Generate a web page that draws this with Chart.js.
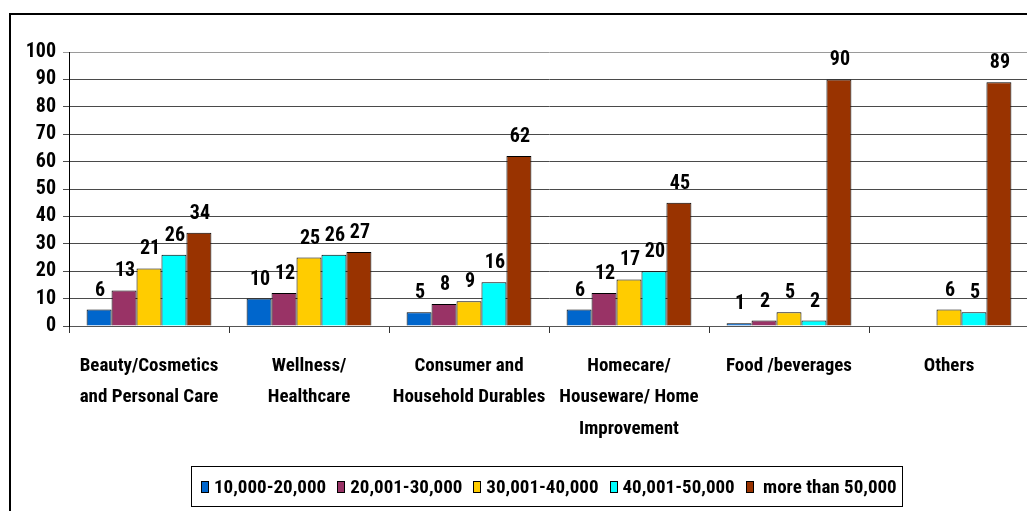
<!DOCTYPE html>
<html><head><meta charset="utf-8">
<script src="https://cdn.jsdelivr.net/npm/chart.js@4.4.0/dist/chart.umd.min.js"></script>
<style>
html,body{margin:0;padding:0;background:#fff;overflow:hidden;width:1027px;height:511px}
#wrap{position:absolute;left:0;top:0;width:1029px;height:511px}
canvas{display:block}
</style></head><body>
<div id="wrap"><canvas id="c" width="1029" height="511"></canvas></div>
<script>
const categories = [
  ["Beauty/Cosmetics","and Personal Care"],
  ["Wellness/","Healthcare"],
  ["Consumer and","Household Durables"],
  ["Homecare/","Houseware/ Home","Improvement"],
  ["Food /beverages"],
  ["Others"]
];
const seriesNames = ["10,000-20,000","20,001-30,000","30,001-40,000","40,001-50,000"," more than 50,000"];
const series1 = [6, 10, 5, 6, 1, null];
const series2 = [13, 12, 8, 12, 2, null];
const series3 = [21, 25, 9, 17, 5, 6];
const series4 = [26, 26, 16, 20, 2, 5];
const series5 = [34, 27, 62, 45, 90, 89];
const seriesColors = ["#0066CC","#993366","#FFCC00","#00FFFF","#993300"];
const yMin = 0, yMax = 100, yStep = 10;

const FONT = "'Roboto Condensed', sans-serif";
const allSeries = [series1, series2, series3, series4, series5];

const frame = {
  id: 'frame',
  beforeDraw(chart) {
    const ctx = chart.ctx;
    ctx.save();
    ctx.fillStyle = '#fff';
    ctx.fillRect(0, 0, chart.width, chart.height);
    ctx.lineWidth = 2;
    ctx.strokeStyle = '#000';
    ctx.strokeRect(10, 14, 1200, 700);
    ctx.restore();
  }
};

const valueLabels = {
  id: 'valueLabels',
  afterDatasetsDraw(chart) {
    const ctx = chart.ctx;
    ctx.save();
    ctx.font = "bold 20px " + FONT;
    ctx.fillStyle = '#000';
    ctx.textAlign = 'center';
    ctx.textBaseline = 'alphabetic';
    chart.data.datasets.forEach((ds, i) => {
      const meta = chart.getDatasetMeta(i);
      meta.data.forEach((bar, j) => {
        const v = ds.data[j];
        if (v === null || v === undefined) return;
        ctx.fillText(String(v), bar.x + 1, bar.y - 14);
      });
    });
    ctx.restore();
  }
};

const legendBox = {
  id: 'legendBox',
  afterDraw(chart) {
    const ctx = chart.ctx;
    ctx.save();
    ctx.font = "bold 19px " + FONT;
    ctx.textBaseline = 'middle';
    ctx.textAlign = 'left';
    const boxW = 8, boxH = 12, gap = 5, spacing = 11;
    const items = chart.data.datasets.map(ds => ({label: ds.label, color: ds.backgroundColor, w: ctx.measureText(ds.label).width}));
    let total = 0;
    items.forEach((it, k) => { total += boxW + gap + it.w + (k < items.length - 1 ? spacing : 0); });
    const cx = 549, cy = 487;
    let x = Math.round(cx - total / 2);
    const x0 = x;
    ctx.lineWidth = 1;
    ctx.strokeStyle = '#000';
    ctx.strokeRect(x0 - 10 + 0.5, 466.5, Math.round(total + 15), 40);
    items.forEach(it => {
      ctx.fillStyle = it.color;
      ctx.fillRect(Math.round(x), cy - boxH / 2, boxW, boxH);
      ctx.strokeRect(Math.round(x) + 0.5, cy - boxH / 2 + 0.5, boxW - 1, boxH - 1);
      x += boxW + gap;
      ctx.fillStyle = '#000';
      ctx.fillText(it.label, x, cy + 1);
      x += it.w + spacing;
    });
    ctx.restore();
  }
};

new Chart(document.getElementById('c'), {
  type: 'bar',
  data: {
    labels: categories,
    datasets: allSeries.map((d, i) => ({
      label: seriesNames[i],
      data: d,
      backgroundColor: seriesColors[i],
      borderColor: '#000',
      borderWidth: 1,
      categoryPercentage: 0.78,
      barPercentage: 1.0
    }))
  },
  options: {
    responsive: false,
    animation: false,
    devicePixelRatio: 1,
    layout: { padding: { top: 52, left: 0, right: 0, bottom: 0 } },
    plugins: { legend: { display: false }, tooltip: { enabled: false } },
    scales: {
      x: {
        offset: true,
        grid: { display: true, drawOnChartArea: false, drawTicks: true, tickLength: 7, color: '#333', offset: true },
        border: { display: true, color: '#555', width: 1 },
        ticks: {
          color: '#000', padding: 17, maxRotation: 0, autoSkip: false,
          font: { family: FONT, size: 19, weight: 'bold', lineHeight: 1.66 }
        },
        afterFit(s) { s.height = 511 - 326; }
      },
      y: {
        min: yMin, max: yMax,
        ticks: { stepSize: yStep, color: '#000', padding: 7, font: { family: FONT, size: 20, weight: 'bold' } },
        grid: {
          color: ctx => (ctx.tick && ctx.tick.value === yMax) ? '#9a9a9a' : '#4a4a4a',
          lineWidth: 1, drawTicks: true, tickLength: 6
        },
        border: { display: true, color: '#000', width: 1 },
        afterFit(s) { s.width = 69; }
      }
    }
  },
  plugins: [frame, valueLabels, legendBox]
});
</script>
</body></html>
